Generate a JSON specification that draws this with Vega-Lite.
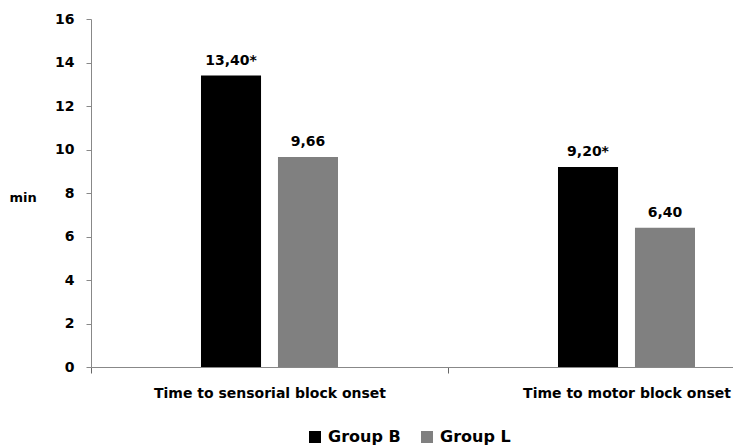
{
  "$schema": "https://vega.github.io/schema/vega-lite/v6.json",
  "width": 714,
  "height": 348,
  "autosize": {"type": "none"},
  "padding": {"left": 91, "top": 19, "right": 0, "bottom": 81},
  "background": "white",
  "config": {
    "font": "DejaVu Sans",
    "view": {"stroke": null}
  },
  "data": {
    "values": [
      {"measure": "Time to sensorial block onset", "group": "Group B", "value": 13.40, "label": "13,40*"},
      {"measure": "Time to sensorial block onset", "group": "Group L", "value": 9.66, "label": "9,66"},
      {"measure": "Time to motor block onset", "group": "Group B", "value": 9.20, "label": "9,20*"},
      {"measure": "Time to motor block onset", "group": "Group L", "value": 6.40, "label": "6,40"}
    ]
  },
  "encoding": {
    "x": {
      "field": "measure",
      "type": "nominal",
      "sort": ["Time to sensorial block onset", "Time to motor block onset"],
      "scale": {"paddingInner": 0.185, "paddingOuter": 0.0925},
      "axis": {
        "title": null,
        "labelAngle": 0,
        "labelFont": "DejaVu Sans",
        "labelFontWeight": "bold",
        "labelFontSize": 14,
        "labelColor": "#000",
        "labelLimit": 400,
        "labelPadding": 13,
        "labelOffset": 178.5,
        "domainColor": "#888",
        "tickColor": "#666",
        "tickOffset": -178.5,
        "tickSize": 6
      }
    },
    "xOffset": {
      "field": "group",
      "type": "nominal",
      "scale": {"paddingInner": 0.22, "paddingOuter": 1}
    },
    "y": {
      "field": "value",
      "type": "quantitative",
      "scale": {"domain": [0, 16]},
      "axis": {
        "values": [0, 2, 4, 6, 8, 10, 12, 14, 16],
        "grid": false,
        "title": "min",
        "titleAngle": 0,
        "titleFont": "DejaVu Sans",
        "titleFontSize": 13,
        "titleFontWeight": "bold",
        "titleX": -82,
        "titleY": 178,
        "titleAlign": "left",
        "titleBaseline": "middle",
        "labelFont": "DejaVu Sans",
        "labelFontWeight": "bold",
        "labelFontSize": 14,
        "labelColor": "#000",
        "labelPadding": 12,
        "domainColor": "#888",
        "tickColor": "#888",
        "tickSize": 5
      }
    }
  },
  "layer": [
    {
      "mark": {"type": "bar"},
      "encoding": {
        "color": {
          "field": "group",
          "type": "nominal",
          "scale": {"domain": ["Group B", "Group L"], "range": ["#000000", "#808080"]},
          "legend": {
            "title": null,
            "orient": "none",
            "direction": "horizontal",
            "legendX": 216,
            "legendY": 410,
            "symbolType": "square",
            "symbolSize": 144,
            "symbolStrokeWidth": 0,
            "labelFont": "DejaVu Sans",
            "labelFontSize": 16,
            "labelFontWeight": "bold",
            "labelColor": "#000",
            "labelOffset": 5,
            "columnPadding": 18
          }
        }
      }
    },
    {
      "mark": {"type": "text", "baseline": "alphabetic", "dy": -11, "font": "DejaVu Sans", "fontSize": 14, "fontWeight": "bold", "color": "#000"},
      "encoding": {
        "text": {"field": "label"}
      }
    }
  ]
}
